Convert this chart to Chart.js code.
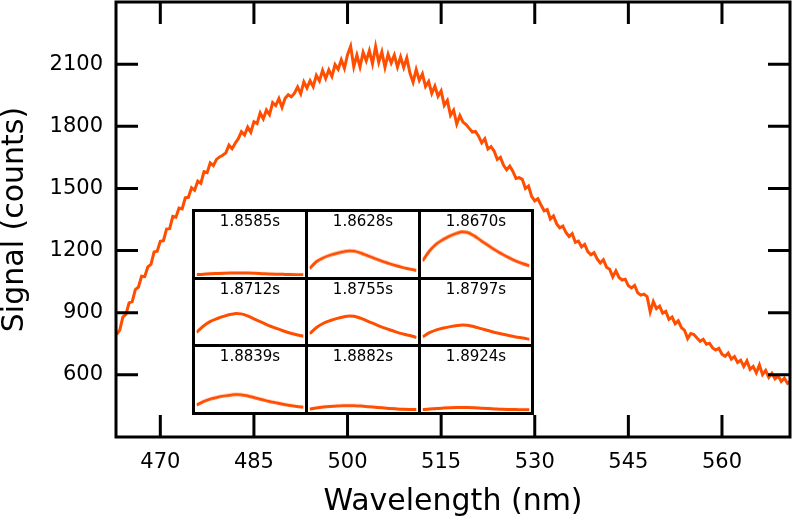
<!DOCTYPE html>
<html>
<head>
<meta charset="utf-8">
<script src="https://cdn.jsdelivr.net/npm/chart.js@4.4.1/dist/chart.umd.min.js"></script>
<style>
  html, body { margin: 0; padding: 0; background: #fff; }
  #wrap { position: relative; width: 792px; height: 522px; }
  #inset {
    position: absolute; left: 192px; top: 209px; width: 342px; height: 206px;
    box-sizing: border-box; padding: 3px; background: #000;
    display: grid; grid-template-columns: repeat(3, 1fr); grid-template-rows: repeat(3, 1fr); gap: 3px;
  }
  .cell { position: relative; background: #fff; overflow: hidden; }
  .cell span {
    position: absolute; left: 0; right: 0; top: 0; line-height: 17px;
    text-align: center; font: 15px "DejaVu Sans"; color: #000; z-index: 2;
  }
</style>
</head>
<body>
<div id="wrap">
  <canvas id="main" width="792" height="522"></canvas>
  <div id="inset"></div>
</div>
<script>
// spectrum sampling (nm)
const WL_START = 463.0;
const WL_STEP = 0.5;

// signal (counts), one row = 5 nm
const SIGNAL = [
  795, 816, 879, 893, 948, 954, 1012, 1024, 1076, 1074,
  1121, 1133, 1193, 1197, 1245, 1248, 1304, 1306, 1365, 1361,
  1405, 1401, 1455, 1457, 1503, 1491, 1535, 1525, 1581, 1576,
  1623, 1610, 1640, 1652, 1660, 1672, 1709, 1692, 1718, 1740,
  1774, 1758, 1796, 1771, 1822, 1813, 1864, 1836, 1878, 1856,
  1914, 1900, 1934, 1891, 1935, 1952, 1942, 1960, 1990, 1957,
  2014, 1985, 2020, 1991, 2046, 2019, 2070, 2031, 2072, 2041,
  2098, 2075, 2121, 2080, 2146, 2187, 2088, 2144, 2087, 2157,
  2116, 2165, 2102, 2185, 2109, 2159, 2085, 2148, 2106, 2144,
  2086, 2135, 2084, 2130, 2057, 2013, 2074, 2022, 2053, 1992,
  2016, 1959, 1994, 1945, 1971, 1901, 1925, 1853, 1878, 1811,
  1852, 1820, 1808, 1790, 1772, 1775, 1752, 1720, 1740, 1690,
  1702, 1680, 1640, 1650, 1612, 1590, 1608, 1582, 1548, 1552,
  1544, 1500, 1512, 1462, 1440, 1450, 1420, 1392, 1398, 1352,
  1367, 1330, 1310, 1318, 1288, 1268, 1282, 1240, 1246, 1218,
  1230, 1195, 1180, 1190, 1160, 1140, 1156, 1120, 1110, 1073,
  1102, 1070, 1058, 1062, 1030, 1020, 1032, 996, 985, 990,
  978, 904, 954, 920, 932, 898, 906, 868, 879, 847,
  861, 828, 815, 775, 800, 795, 778, 762, 772, 748,
  753, 730, 720, 728, 700, 690, 705, 676, 688, 660,
  671, 640, 668, 627, 641, 610, 648, 601, 621, 588,
  608, 581, 595, 568, 584, 559, 570
];

const X_TICKS = [470, 485, 500, 515, 530, 545, 560];
const Y_TICKS = [600, 900, 1200, 1500, 1800, 2100];

// inset panels
const INSET_WL = [463, 470, 477, 484, 491, 498, 503, 508, 515, 522, 529, 536, 543, 550, 557, 564, 571];
const INSET_TIMES = ['1.8585s', '1.8628s', '1.8670s', '1.8712s', '1.8755s', '1.8797s', '1.8839s', '1.8882s', '1.8924s'];
const INSET_18585 = [75, 100, 118, 132, 145, 155, 160, 158, 150, 138, 125, 112, 100, 90, 80, 72, 65];
const INSET_18628 = [365, 700, 885, 1010, 1105, 1180, 1210, 1198, 1105, 972, 845, 718, 610, 508, 418, 345, 275];
const INSET_18670 = [730, 1210, 1550, 1765, 1935, 2065, 2120, 2100, 1935, 1705, 1480, 1260, 1070, 890, 730, 605, 500];
const INSET_18712 = [530, 835, 1058, 1202, 1318, 1404, 1440, 1425, 1315, 1158, 1008, 855, 727, 605, 497, 410, 335];
const INSET_18755 = [460, 765, 970, 1102, 1208, 1287, 1320, 1307, 1205, 1061, 924, 784, 667, 554, 455, 376, 280];
const INSET_18797 = [310, 510, 647, 735, 805, 858, 880, 871, 803, 708, 616, 523, 444, 370, 304, 251, 190];
const INSET_18839 = [295, 464, 588, 668, 732, 780, 800, 792, 730, 643, 560, 475, 404, 336, 276, 228, 195];
const INSET_18882 = [100, 160, 200, 228, 250, 263, 270, 267, 247, 218, 190, 162, 137, 115, 96, 85, 78];
const INSET_18924 = [80, 105, 132, 150, 165, 175, 180, 178, 165, 145, 126, 108, 92, 84, 78, 72, 68];
const INSET_SERIES = [INSET_18585, INSET_18628, INSET_18670, INSET_18712, INSET_18755,
                      INSET_18797, INSET_18839, INSET_18882, INSET_18924];

const ORANGE = 'rgb(255, 78, 0)';
const FONT = 'DejaVu Sans';

// frame + inward ticks on all four sides
const framePlugin = {
  id: 'frame',
  afterDraw(chart) {
    const { ctx, chartArea: a, scales } = chart;
    const len = 22;
    ctx.save();
    ctx.strokeStyle = '#000';
    ctx.lineWidth = 3;
    ctx.beginPath();
    scales.x.ticks.forEach(t => {
      const px = scales.x.getPixelForValue(t.value);
      ctx.moveTo(px, a.bottom); ctx.lineTo(px, a.bottom - len);
      ctx.moveTo(px, a.top); ctx.lineTo(px, a.top + len);
    });
    scales.y.ticks.forEach(t => {
      const py = scales.y.getPixelForValue(t.value);
      ctx.moveTo(a.left, py); ctx.lineTo(a.left + len, py);
      ctx.moveTo(a.right, py); ctx.lineTo(a.right - len, py);
    });
    ctx.stroke();
    ctx.strokeRect(a.left, a.top, a.right - a.left, a.bottom - a.top);
    ctx.restore();
  }
};

const wl = [];
for (let i = 0; i < SIGNAL.length; i++) wl.push(WL_START + i * WL_STEP);

new Chart(document.getElementById('main'), {
  type: 'line',
  data: {
    datasets: [{
      data: SIGNAL.map((v, i) => ({ x: wl[i], y: v })),
      borderColor: ORANGE,
      borderWidth: 3,
      pointRadius: 0,
      tension: 0
    }]
  },
  options: {
    responsive: false,
    animation: false,
    layout: { padding: { top: 2, right: 2, left: 0, bottom: 0 } },
    plugins: { legend: { display: false }, tooltip: { enabled: false } },
    scales: {
      x: {
        type: 'linear', min: 462.9, max: 570.9,
        afterBuildTicks: s => { s.ticks = X_TICKS.map(v => ({ value: v })); },
        afterFit: s => { s.height = 85; s.paddingLeft = 0; s.paddingRight = 0; },
        grid: { display: false, drawTicks: false },
        border: { display: false },
        ticks: {
          color: '#000', font: { family: FONT, size: 21 }, padding: 13,
          maxRotation: 0, autoSkip: false, callback: v => String(v)
        },
        title: {
          display: true, text: 'Wavelength (nm)', color: '#000',
          font: { family: FONT, size: 30, lineHeight: 1 }, padding: { top: 0, bottom: 5 }
        }
      },
      y: {
        min: 300, max: 2400,
        afterBuildTicks: s => { s.ticks = Y_TICKS.map(v => ({ value: v })); },
        afterFit: s => { s.width = 116; s.paddingTop = 0; s.paddingBottom = 0; },
        grid: { display: false, drawTicks: false },
        border: { display: false },
        ticks: { color: '#000', font: { family: FONT, size: 21 }, padding: 13, callback: v => String(v) },
        title: {
          display: true, text: 'Signal (counts)', color: '#000',
          font: { family: FONT, size: 30, lineHeight: 1 }, padding: { top: 0, bottom: 0 }
        }
      }
    }
  },
  plugins: [framePlugin]
});

// 3x3 inset grid
const insetEl = document.getElementById('inset');
INSET_SERIES.forEach((series, k) => {
  const cell = document.createElement('div');
  cell.className = 'cell';
  const label = document.createElement('span');
  label.textContent = INSET_TIMES[k];
  const cv = document.createElement('canvas');
  cell.appendChild(label);
  cell.appendChild(cv);
  insetEl.appendChild(cell);

  new Chart(cv, {
    type: 'line',
    data: {
      datasets: [{
        data: series.map((v, i) => ({ x: INSET_WL[i], y: v })),
        borderColor: ORANGE,
        borderWidth: 3,
        pointRadius: 0,
        cubicInterpolationMode: 'monotone'
      }]
    },
    options: {
      responsive: true,
      maintainAspectRatio: false,
      animation: false,
      layout: { padding: 0 },
      plugins: { legend: { display: false }, tooltip: { enabled: false } },
      scales: {
        x: { type: 'linear', display: false, min: 462.9, max: 570.9 },
        y: { display: false, min: 0, max: 3000 }
      }
    }
  });
});
</script>
</body>
</html>
